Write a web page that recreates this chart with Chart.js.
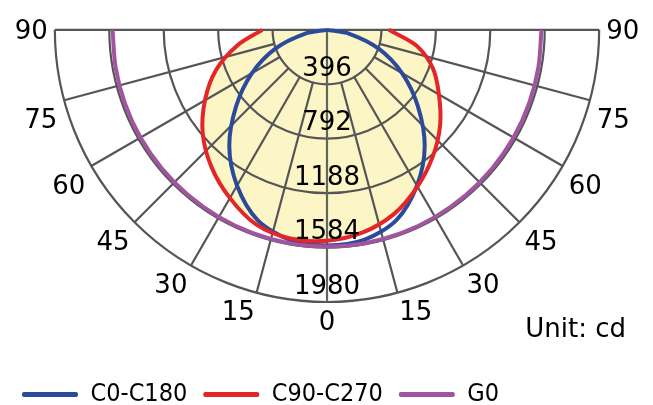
<!DOCTYPE html>
<html>
<head>
<meta charset="utf-8">
<script src="https://cdn.jsdelivr.net/npm/chart.js@4.4.1/dist/chart.umd.min.js"></script>
<style>
  html, body { margin: 0; padding: 0; background: #fff; }
  #wrap { width: 653px; height: 405px; }
</style>
</head>
<body>
<div id="wrap"><canvas id="polar" width="653" height="405"></canvas></div>
<script>
// gamma angles in degrees, left half negative, 0 = straight down
var angles = [-90, -80, -70, -60, -50, -40, -30, -20, -10, 0, 10, 20, 30, 40, 50, 60, 70, 80, 90];

// luminous intensity (cd)
var c0c180  = [0, 165, 400, 630, 862, 1106, 1310, 1476, 1555, 1572, 1555, 1476, 1310, 1106, 862, 630, 400, 165, 0];
var c90c270 = [471, 665, 860, 1025, 1180, 1307, 1415, 1510, 1545, 1538, 1500, 1428, 1318, 1200, 1075, 940, 820, 660, 450];
var g0      = [1560, 1562, 1565, 1568, 1570, 1572, 1575, 1578, 1580, 1580, 1580, 1578, 1575, 1572, 1570, 1568, 1565, 1562, 1560];

var seriesNames = ['C0-C180', 'C90-C270', 'G0'];
var ringValues = [396, 792, 1188, 1584, 1980];
var angleTicks = [0, 15, 30, 45, 60, 75, 90];
var unitText = 'Unit: cd';

// where the pole sits and how long the 1980 ring is, in px
var poleX = 328, poleY = 28, outerPx = 273;
var rMax = ringValues[ringValues.length - 1];
var perPx = rMax / outerPx;

var gridColor = '#555557';
var labelFont = '26px "DejaVu Sans", Verdana, sans-serif';
var lineColors = ['#2b4a9b', '#e52527', '#a2559f'];

function toPoints(values) {
  return angles.map(function(a, i) {
    var t = a * Math.PI / 180;
    return { x: values[i] * Math.sin(t), y: -values[i] * Math.cos(t) };
  });
}

var polarGrid = {
  id: 'polarGrid',
  beforeDatasetsDraw: function(chart) {
    var ctx = chart.ctx, sx = chart.scales.x, sy = chart.scales.y;
    var cx = sx.getPixelForValue(0), cy = sy.getPixelForValue(0);
    var rPx = function(v) { return sx.getPixelForValue(v) - cx; };
    var outer = rPx(rMax), inner = rPx(ringValues[0]);
    ctx.save();
    ctx.strokeStyle = gridColor;
    ctx.lineWidth = 2.2;
    ringValues.forEach(function(v) {
      ctx.beginPath();
      ctx.arc(cx, cy, rPx(v), 0, Math.PI);
      ctx.stroke();
    });
    angleTicks.forEach(function(a) {
      if (a === 0 || a === 90) return;
      var t = a * Math.PI / 180;
      [-1, 1].forEach(function(side) {
        ctx.beginPath();
        ctx.moveTo(cx + side * inner * Math.sin(t), cy + inner * Math.cos(t));
        ctx.lineTo(cx + side * outer * Math.sin(t), cy + outer * Math.cos(t));
        ctx.stroke();
      });
    });
    // 90-90 line
    ctx.beginPath();
    ctx.moveTo(cx - outer, cy);
    ctx.lineTo(cx + outer, cy);
    ctx.stroke();
    // 0 line
    ctx.strokeStyle = '#5f665d';
    ctx.beginPath();
    ctx.moveTo(cx, cy);
    ctx.lineTo(cx, cy + outer);
    ctx.stroke();
    ctx.restore();
  },
  afterDatasetsDraw: function(chart) {
    var ctx = chart.ctx, sx = chart.scales.x, sy = chart.scales.y;
    var cx = sx.getPixelForValue(0), cy = sy.getPixelForValue(0);
    var outer = sx.getPixelForValue(rMax) - cx;
    ctx.save();
    ctx.fillStyle = '#000';
    ctx.font = labelFont;
    ctx.textBaseline = 'middle';
    ctx.textAlign = 'center';
    ringValues.forEach(function(v) {
      var y = cy + (sx.getPixelForValue(v) - cx);
      ctx.fillText(String(v), cx, y - 15);
    });
    // angle labels hang just below the end of each spoke
    angleTicks.forEach(function(a) {
      var t = a * Math.PI / 180;
      var ex = outer * Math.sin(t), ey = cy + outer * Math.cos(t);
      var gap = 7 * Math.sin(t);
      var dy = a === 90 ? 2 : 21;
      if (a === 0) {
        ctx.textAlign = 'center';
        ctx.fillText('0', cx, ey + dy);
        return;
      }
      ctx.textAlign = 'right';
      ctx.fillText(String(a), cx - ex - gap, ey + dy);
      ctx.textAlign = 'left';
      ctx.fillText(String(a), cx + ex + gap, ey + dy);
    });
    ctx.textAlign = 'right';
    ctx.fillText(unitText, 626, 330);
    ctx.restore();
  }
};

var chart = new Chart(document.getElementById('polar'), {
  type: 'scatter',
  data: {
    datasets: [
      {
        label: seriesNames[0],
        data: toPoints(c0c180),
        showLine: true,
        borderColor: lineColors[0],
        backgroundColor: lineColors[0],
        borderWidth: 4,
        pointRadius: 0,
        tension: 0.3,
        fill: false,
        order: 3
      },
      {
        label: seriesNames[1],
        data: toPoints(c90c270),
        showLine: true,
        borderColor: lineColors[1],
        backgroundColor: '#fcf5c6',
        borderWidth: 4,
        pointRadius: 0,
        tension: 0.3,
        fill: 'shape',
        order: 2
      },
      {
        label: seriesNames[2],
        data: toPoints(g0),
        showLine: true,
        borderColor: lineColors[2],
        backgroundColor: lineColors[2],
        borderWidth: 4,
        pointRadius: 0,
        tension: 0.3,
        fill: false,
        order: 1
      }
    ]
  },
  options: {
    responsive: false,
    animation: false,
    devicePixelRatio: 1,
    layout: { padding: { left: 6, right: 0, top: 0, bottom: -12 } },
    scales: {
      x: { type: 'linear', display: false, min: -2350, max: 2357 },
      y: { type: 'linear', display: false, min: -2437, max: 203 }
    },
    plugins: {
      filler: { drawTime: 'beforeDatasetsDraw' },
      tooltip: { enabled: false },
      legend: {
        position: 'bottom',
        align: 'start',
        labels: {
          boxWidth: 56,
          boxHeight: 5,
          padding: 16,
          color: '#000',
          font: { family: '"DejaVu Sans Condensed", "DejaVu Sans", sans-serif', size: 25 },
          sort: function(a, b) { return a.datasetIndex - b.datasetIndex; },
          generateLabels: function(ch) {
            var items = Chart.defaults.plugins.legend.labels.generateLabels(ch);
            items.forEach(function(it) {
              it.fillStyle = lineColors[it.datasetIndex];
              it.strokeStyle = lineColors[it.datasetIndex];
              it.lineWidth = 0;
              it.borderRadius = 2;
            });
            return items;
          }
        }
      }
    }
  },
  plugins: [polarGrid]
});

// fit the value ranges to the laid-out area so the pole lands where it should
var area = chart.chartArea;
chart.options.scales.x.min = (area.left - poleX) * perPx;
chart.options.scales.x.max = (area.right - poleX) * perPx;
chart.options.scales.y.max = (poleY - area.top) * perPx;
chart.options.scales.y.min = (poleY - area.bottom) * perPx;
chart.update();
</script>
</body>
</html>
